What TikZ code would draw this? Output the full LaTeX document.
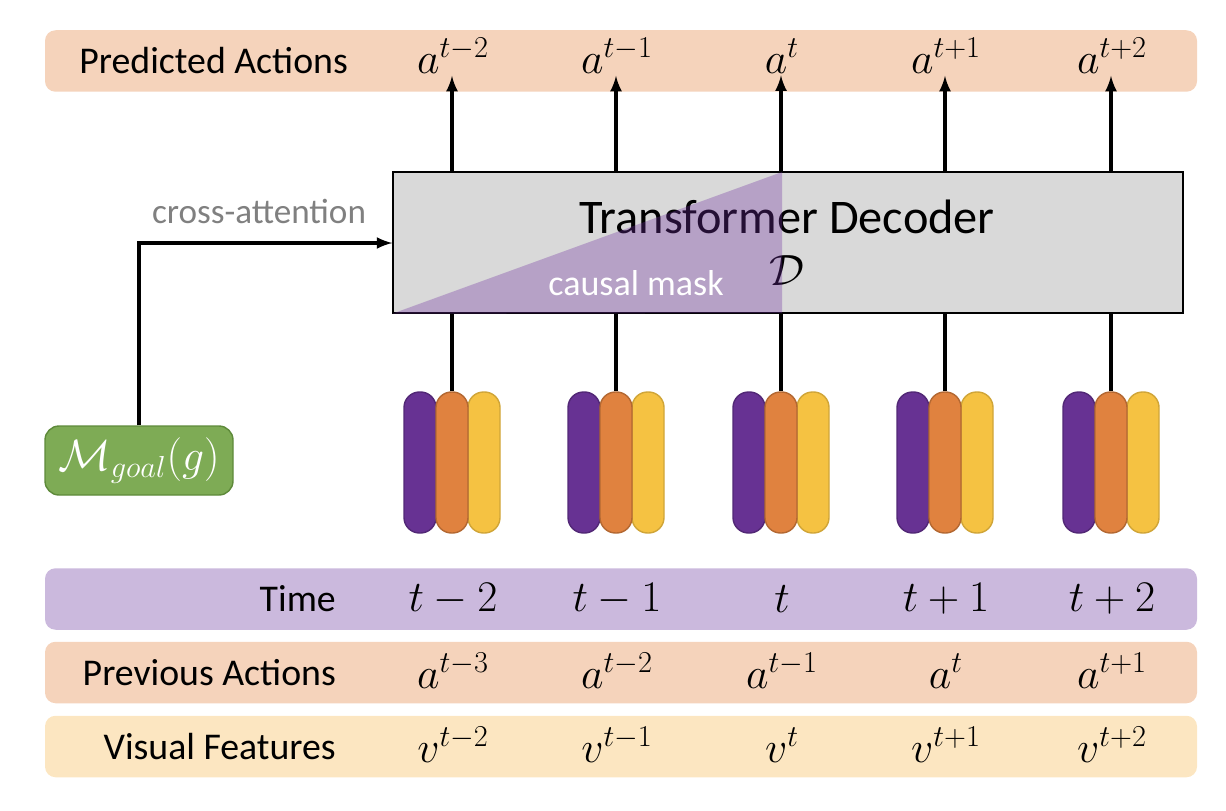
\documentclass[tikz,border=0pt]{standalone}
\usepackage{fontspec}
\setmainfont{Carlito}
\usetikzlibrary{arrows, backgrounds, positioning, shapes}

\definecolor{peach}{HTML}{F5D3BB}
\definecolor{lilac}{HTML}{CBB9DD}
\definecolor{cream}{HTML}{FCE6C1}
\definecolor{boxgray}{HTML}{D9D9D9}
\definecolor{maskpurple}{HTML}{7030A0}
\definecolor{goalgreen}{HTML}{7EAB55}
\definecolor{goalline}{HTML}{5E8A3A}
\definecolor{tokpurple}{HTML}{673293}
\definecolor{tokorange}{HTML}{E0823F}
\definecolor{tokyellow}{HTML}{F5C242}

\begin{document}
\begin{tikzpicture}[%
  bar/.style={rounded corners=6pt, minimum width=23.04cm, minimum height=1.23cm},
  rowlabel/.style={anchor=east, font=\fontsize{21.5}{24}\selectfont},
  entry/.style={font=\fontsize{23.5}{26}\selectfont, inner sep=1pt},
  pill/.style={draw, line width=0.8pt, rounded corners=0.31cm,
    minimum width=0.64cm, minimum height=2.82cm, inner sep=0pt},
  link/.style={line width=2pt}]
  \useasboundingbox (0,0) rectangle (24.52,-16.2);

  % bars
  \node[bar, fill=peach] (predbar) at (12.42,-1.22) {};
  \node[bar, fill=lilac] (timebar) at (12.42,-11.98) {};
  \node[bar, fill=peach] (prevbar) at (12.42,-13.45) {};
  \node[bar, fill=cream] (visbar) at (12.42,-14.93) {};
  \node[rowlabel] at (7.08,-1.22) {Predicted Actions};
  \node[rowlabel] at (6.84,-11.98) {Time};
  \node[rowlabel] at (6.84,-13.45) {Previous Actions};
  \node[rowlabel] at (6.84,-14.93) {Visual Features};

  % decoder
  \node[draw, fill=boxgray, line width=0.8pt, minimum width=15.8cm,
    minimum height=2.82cm] (decoder) at (15.76,-4.85) {};
  \node[font=\fontsize{27.5}{30}\selectfont] (dectitle) at (15.74,-4.34) {Transformer Decoder};
  \node[font=\fontsize{26}{28}\selectfont] (decsym) at (15.74,-5.42) {$\mathcal{D}$};
  \fill[maskpurple, opacity=0.33] (decoder.south west) -- (15.64,-3.44) -- (15.64,-6.26) -- cycle;
  \node[white, font=\fontsize{20.5}{22}\selectfont] (mask) at (12.72,-5.66) {causal mask};

  % goal
  \node[draw=goalline, fill=goalgreen, line width=0.8pt, rounded corners=8pt,
    minimum width=3.76cm, minimum height=1.38cm, text=white,
    font=\fontsize{23}{26}\selectfont] (goal) at (2.78,-9.21) {$\mathcal{M}_{goal}(g)$};
  \coordinate (bend) at (goal.north |- 0,-4.86);
  \draw[link, -latex] (goal.north) -- (bend) -- (bend -| decoder.west);
  \node[gray, font=\fontsize{20}{22}\selectfont] (xattn) at (5.18,-4.22) {cross-attention};

  % columns
  \foreach \i/\x/\prd/\tm/\prv/\vis in {%
    1/9.06/{t-2}/{t-2}/{t-3}/{t-2},
    2/12.34/{t-1}/{t-1}/{t-2}/{t-1},
    3/15.64/{t}/{t}/{t-1}/{t},
    4/18.92/{t+1}/{t+1}/{t}/{t+1},
    5/22.24/{t+2}/{t+2}/{t+1}/{t+2}} {
    \node[entry] (pred-\i) at (\x,-1.12) {$a^{\prd}$};
    \node[entry] (time-\i) at (\x,-11.98) {$\tm$};
    \node[entry] (prev-\i) at (\x,-13.42) {$a^{\prv}$};
    \node[entry] (vis-\i) at (\x,-14.9) {$v^{\vis}$};
    \node[pill, draw=tokpurple!80!black, fill=tokpurple] (purple-\i) at (\x-0.66,-9.25) {};
    \node[pill, draw=tokyellow!85!black, fill=tokyellow] (yellow-\i) at (\x+0.62,-9.25) {};
    \node[pill, draw=tokorange!80!black, fill=tokorange] (orange-\i) at (\x-0.02,-9.25) {};
    \draw[link] (decoder.south -| orange-\i.north) -- (orange-\i.north);
    \draw[link, -latex] (decoder.north -| orange-\i.north) -- (pred-\i.south -| orange-\i.north);
  }
\end{tikzpicture}
\end{document}
